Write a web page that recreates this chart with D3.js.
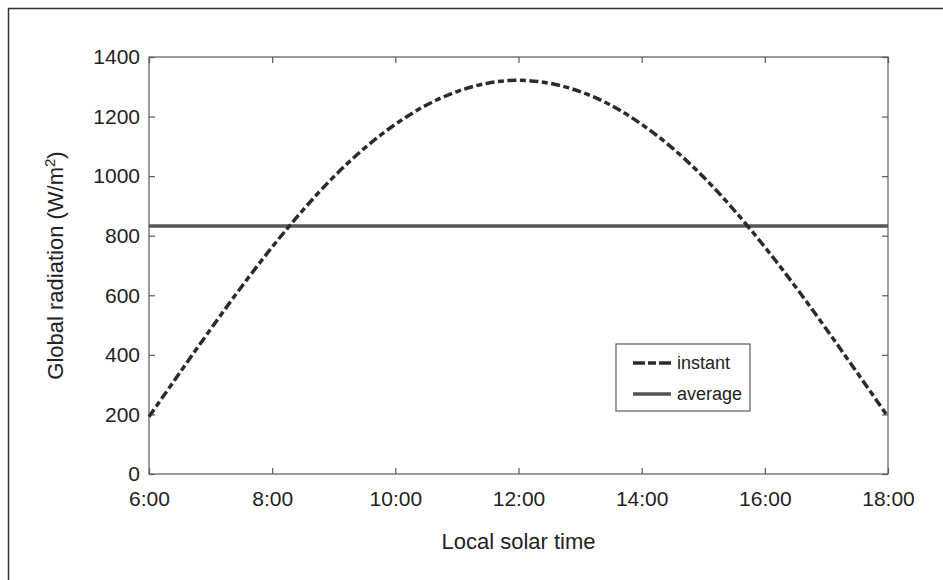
<!DOCTYPE html>
<html>
<head>
<meta charset="utf-8">
<script src="https://cdn.jsdelivr.net/npm/d3@7/dist/d3.min.js"></script>
<style>
  html, body { margin: 0; padding: 0; background: #fff; }
  svg { display: block; }
  text { font-family: "Liberation Sans", Arial, Helvetica, sans-serif; fill: #222; }
</style>
</head>
<body>
<svg id="chart" width="943" height="580"></svg>
<script>
// Hourly solar radiation over one day
const hours = [6, 6.5, 7, 7.5, 8, 8.5, 9, 9.5, 10, 10.5, 11, 11.5, 12,
               12.5, 13, 13.5, 14, 14.5, 15, 15.5, 16, 16.5, 17, 17.5, 18];
const instant = [192, 340, 486, 628, 762, 886, 998, 1094, 1174, 1238, 1284, 1312, 1322,
                 1312, 1284, 1238, 1174, 1094, 998, 886, 762, 628, 486, 340, 192];
const averageHours = [6, 18];
const average = [833, 833];

const xTicks = [6, 8, 10, 12, 14, 16, 18];
const xTickLabels = ["6:00", "8:00", "10:00", "12:00", "14:00", "16:00", "18:00"];
const yTicks = [0, 200, 400, 600, 800, 1000, 1200, 1400];

const seriesNames = ["instant", "average"];

const svg = d3.select("#chart");
const plot = { left: 149, right: 888, top: 57, bottom: 474 };

const x = d3.scaleLinear().domain([6, 18]).range([plot.left, plot.right]);
const y = d3.scaleLinear().domain([0, 1400]).range([plot.bottom, plot.top]);

// outer frame (left and top edges)
svg.append("path")
  .attr("d", "M8.5,580 L8.5,8.5 L943,8.5")
  .attr("fill", "none").attr("stroke", "#333").attr("stroke-width", 1.5);

const axisColor = "#5a5a5a";
const tickLen = 6;

// box around plot area
svg.append("rect")
  .attr("x", plot.left).attr("y", plot.top)
  .attr("width", plot.right - plot.left).attr("height", plot.bottom - plot.top)
  .attr("fill", "none").attr("stroke", axisColor).attr("stroke-width", 1.2);

// axes with inward ticks on all four sides
const fmtX = (d) => xTickLabels[xTicks.indexOf(d)];
const axisBottom = d3.axisBottom(x).tickValues(xTicks).tickFormat(fmtX).tickSizeInner(-tickLen).tickSizeOuter(0).tickPadding(17);
const axisTop = d3.axisTop(x).tickValues(xTicks).tickFormat("").tickSizeInner(-tickLen).tickSizeOuter(0);
const axisLeft = d3.axisLeft(y).tickValues(yTicks).tickFormat(d3.format("d")).tickSizeInner(-tickLen).tickSizeOuter(0).tickPadding(9);
const axisRight = d3.axisRight(y).tickValues(yTicks).tickFormat("").tickSizeInner(-tickLen).tickSizeOuter(0);

function styleAxis(g) {
  g.select(".domain").remove();
  g.selectAll(".tick line").attr("stroke", axisColor).attr("stroke-width", 1.2);
  g.selectAll(".tick text")
    .attr("fill", "#222")
    .style("font-family", '"Liberation Sans", Arial, sans-serif')
    .style("font-size", "21px");
}

svg.append("g").attr("transform", `translate(0,${plot.bottom})`).call(axisBottom).call(styleAxis);
svg.append("g").attr("transform", `translate(0,${plot.top})`).call(axisTop).call(styleAxis);
svg.append("g").attr("transform", `translate(${plot.left},0)`).call(axisLeft).call(styleAxis);
svg.append("g").attr("transform", `translate(${plot.right},0)`).call(axisRight).call(styleAxis);

// axis titles
svg.append("text")
  .attr("x", (plot.left + plot.right) / 2).attr("y", 549)
  .attr("text-anchor", "middle")
  .style("font-size", "22px")
  .text("Local solar time");

const yTitle = svg.append("text")
  .attr("transform", `translate(63,${(plot.top + plot.bottom) / 2}) rotate(-90)`)
  .attr("text-anchor", "middle")
  .style("font-size", "22px");
yTitle.append("tspan").text("Global radiation (W/m");
yTitle.append("tspan").attr("dy", -8).style("font-size", "15px").text("2");
yTitle.append("tspan").attr("dy", 8).text(")");

// series
const line = d3.line().x((d) => x(d[0])).y((d) => y(d[1]));
const instantStyle = { stroke: "#2b2b2b", width: 3.5, dash: "9,3.5,6,3.5" };
const averageStyle = { stroke: "#555", width: 3.5, dash: null };

svg.append("path")
  .datum(averageHours.map((h, i) => [h, average[i]]))
  .attr("d", line)
  .attr("fill", "none")
  .attr("stroke", averageStyle.stroke)
  .attr("stroke-width", averageStyle.width);

svg.append("path")
  .datum(hours.map((h, i) => [h, instant[i]]))
  .attr("d", line.curve(d3.curveCatmullRom))
  .attr("fill", "none")
  .attr("stroke", instantStyle.stroke)
  .attr("stroke-width", instantStyle.width)
  .attr("stroke-dasharray", instantStyle.dash);

// legend
const legend = svg.append("g").attr("transform", "translate(616,344)");
legend.append("rect")
  .attr("width", 134).attr("height", 67)
  .attr("fill", "#fff").attr("stroke", axisColor).attr("stroke-width", 1.2);
const legendStyles = [instantStyle, averageStyle];
seriesNames.forEach((name, i) => {
  const cy = 19 + i * 31;
  legend.append("line")
    .attr("x1", 17).attr("x2", 55).attr("y1", cy).attr("y2", cy)
    .attr("stroke", legendStyles[i].stroke)
    .attr("stroke-width", legendStyles[i].width)
    .attr("stroke-dasharray", legendStyles[i].dash ? "12,3,8,3" : null);
  legend.append("text")
    .attr("x", 61).attr("y", cy + 6)
    .style("font-size", "18px")
    .text(name);
});
</script>
</body>
</html>
